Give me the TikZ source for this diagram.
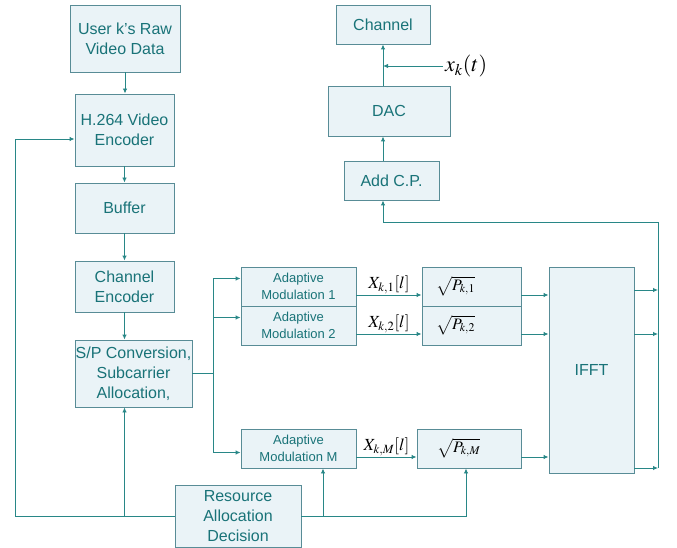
\documentclass[tikz,border=0pt]{standalone}
\usepackage{mathptmx}
\usepackage[no-math]{fontspec}
\setmainfont{Liberation Sans}
\usetikzlibrary{arrows.meta}

\definecolor{boxfill}{RGB}{234,243,247}
\definecolor{boxline}{RGB}{88,140,150}
\definecolor{flow}{RGB}{40,135,135}
\definecolor{label}{RGB}{25,115,120}
\tikzset{
  blk/.style={draw=boxline, fill=boxfill, line width=0.9pt, text=label, align=center, inner sep=0pt, font=\fontsize{16}{20}\selectfont},
  modblk/.style={blk, font=\fontsize{13}{17.5}\selectfont},
  pblk/.style={blk, text=black, align=left, inner xsep=14pt, font=\fontsize{16}{18}\selectfont},
  arr/.style={draw=flow, line width=0.9pt, -{Latex[length=5pt,width=4.5pt]}},
  ln/.style={draw=flow, line width=0.9pt},
  sig/.style={font=\fontsize{17}{19}\selectfont, inner sep=1pt}
}

\begin{document}
\begin{tikzpicture}[x=1pt,y=-1pt]
	\useasboundingbox (0,0) rectangle (677,548);

	% left column
	\node[blk, minimum width=110, minimum height=67] (raw) at (125,38.5) {User k's Raw\\Video Data};
	\node[blk, minimum width=99, minimum height=72] (enc) at (124.5,130) {H.264 Video\\Encoder};
	\node[blk, minimum width=99, minimum height=50] (buf) at (124.5,208) {Buffer};
	\node[blk, minimum width=99, minimum height=51] (chenc) at (124.5,286.5) {Channel\\Encoder};
	\node[blk, minimum width=117, minimum height=67] (sp) at (133.5,373.5) {S/P Conversion,\\Subcarrier\\Allocation,};
	\node[blk, minimum width=126, minimum height=62] (rad) at (238,516) {Resource\\Allocation\\Decision};

	% modulation and power
	\node[modblk, minimum width=115, minimum height=39] (am1) at (298.5,286.5) {Adaptive\\Modulation 1};
	\node[modblk, minimum width=115, minimum height=39] (am2) at (298.5,325.5) {Adaptive\\Modulation 2};
	\node[modblk, minimum width=115, minimum height=39] (amM) at (298.5,448.5) {Adaptive\\Modulation M};
	\node[pblk, text width=71, minimum height=39] (p1) at (471.5,286.5) {$\sqrt{P_{k,1}}$};
	\node[pblk, text width=71, minimum height=39] (p2) at (471.5,325.5) {$\sqrt{P_{k,2}}$};
	\node[pblk, text width=64, inner xsep=20pt, minimum height=39] (pM) at (469,448.5) {$\sqrt{P_{k,M}}$};
	\node[blk, minimum width=85, minimum height=206] (ifft) at (591.5,370) {IFFT};

	% right column
	\node[blk, minimum width=94, minimum height=39] (chan) at (383,24.5) {Channel};
	\node[blk, minimum width=122, minimum height=50] (dac) at (389,111) {DAC};
	\node[blk, minimum width=95, minimum height=39] (acp) at (391.5,180.5) {Add C.P.};

	\draw[arr] (raw.south) -- (raw.south |- enc.north);
	\draw[arr] (enc.south) -- (buf.north);
	\draw[arr] (buf.south) -- (chenc.north);
	\draw[arr] (chenc.south) -- (chenc.south |- sp.north);

	% feedback from the decision
	\coordinate (fb) at (15,516);
	\coordinate (mb) at (323,516);
	\coordinate (rb) at (466,516);
	\draw[arr] (rad.west) -- (fb) |- ([yshift=-9pt]enc.west);
	\draw[arr] (enc |- fb) -- (enc |- sp.south);
	\draw[arr] (rad.east) -- (rb) -- (rb |- pM.south);
	\draw[arr] (mb) -- (mb |- amM.south);

	% subcarriers
	\coordinate (sj) at (213,373.5);
	\draw[ln] (sp.east) -- (sj);
	\draw[arr] (sj) |- ([yshift=8pt]am1.west);
	\draw[arr] (sj) |- ([yshift=8pt]am2.west);
	\draw[arr] (sj) |- ([yshift=-4pt]amM.west);

	\draw[arr] ([yshift=-8.5pt]am1.east) -- ([yshift=-8.5pt]am1.east -| p1.west) node[midway, above, sig] (x1) {$X_{k,1}[l]$};
	\draw[arr] ([yshift=-8.5pt]am2.east) -- ([yshift=-8.5pt]am2.east -| p2.west) node[midway, above, sig] (x2) {$X_{k,2}[l]$};
	\draw[arr] ([yshift=-8.5pt]amM.east) -- ([yshift=-8.5pt]amM.east -| pM.west) node[midway, above, sig] (xM) {$X_{k,M}[l]$};

	\draw[arr] ([yshift=-8.5pt]p1.east) -- ([yshift=-8.5pt]p1.east -| ifft.west);
	\draw[arr] ([yshift=-8.5pt]p2.east) -- ([yshift=-8.5pt]p2.east -| ifft.west);
	\draw[arr] ([yshift=-8.5pt]pM.east) -- ([yshift=-8.5pt]pM.east -| ifft.west);

	% back up to the transmitter
	\coordinate (ob) at (658,468);
	\coordinate (ot) at (658,222);
	\draw[arr] (ifft.east |- 0,290) -- (ob |- 0,290);
	\draw[arr] (ifft.east |- 0,334) -- (ob |- 0,334);
	\draw[arr] (ifft.east |- ob) -- (ob);
	\draw[ln] (ob) -- (ot);
	\draw[arr] (ot) -| (chan |- acp.south);

	\draw[arr] (chan |- acp.north) -- (chan |- dac.south);
	\draw[arr] (chan |- dac.north) -- (chan.south);
	\coordinate (xk) at (443,66);
	\draw[arr] (xk) -- (chan |- xk);
	\node[anchor=west, inner sep=2pt, font=\fontsize{22}{24}\selectfont] (xklab) at (xk) {$x_k(t)$};
\end{tikzpicture}
\end{document}
